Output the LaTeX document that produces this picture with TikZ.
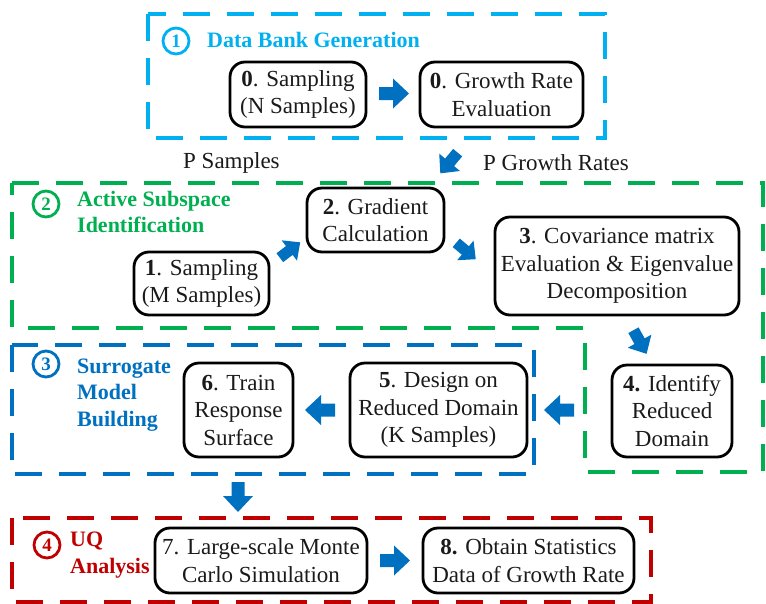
\documentclass[tikz,border=0pt]{standalone}
\usepackage{fontspec}
\setmainfont{Liberation Serif}
\usetikzlibrary{calc}
\definecolor{cyanc}{HTML}{00B0F0}
\definecolor{greenc}{HTML}{00B050}
\definecolor{bluec}{HTML}{0070C0}
\definecolor{redc}{HTML}{C00000}
\definecolor{txt}{HTML}{1A1A1A}
\tikzset{
 stepbox/.style={draw=black, line width=2.8pt, rounded corners=15pt, align=center, text=txt,
   font=\fontsize{23}{27.5}\selectfont, inner sep=0pt},
 region/.style={line width=3.5pt, dash pattern=on 27pt off 17pt},
 heading/.style={font=\fontsize{22}{26.5}\selectfont\bfseries, anchor=west, align=left, inner sep=0pt},
 numcirc/.style={circle, line width=2.8pt, minimum size=26pt, inner sep=0pt, font=\fontsize{19}{19}\selectfont\bfseries},
 plain/.style={font=\fontsize{23}{27}\selectfont, text=txt, anchor=west, inner sep=0pt},
 pics/barrow/.style={code={\fill[bluec] (-15,-6.5) -- (-1,-6.5) -- (-1,-15) -- (15,0) -- (-1,15) -- (-1,6.5) -- (-15,6.5) -- cycle;}}
}
\begin{document}
\begin{tikzpicture}[x=1pt,y=-1pt]
\useasboundingbox (0,0) rectangle (766,603);
% regions
\draw[region, cyanc] (148,14) rectangle (605,138);
\draw[region, greenc] (12,183) -- (763,183) -- (763,472) -- (585,472) -- (585,328) -- (12,328) -- cycle;
\draw[region, bluec] (12,345) rectangle (534,474);
\draw[region, redc] (12,518) rectangle (651,602);
% region titles
\node[numcirc, draw=cyanc, text=cyanc] (n1) at (176,41) {1};
\node[heading, text=cyanc] (h1) at (207,40) {Data Bank Generation};
\node[numcirc, draw=greenc, text=greenc] (n2) at (46,204) {2};
\node[heading, text=greenc] (h2) at (77,212) {Active Subspace\\Identification};
\node[numcirc, draw=bluec, text=bluec] (n3) at (46,364) {3};
\node[heading, text=bluec] (h3) at (77,395) {Surrogate\\Model\\Building};
\node[numcirc, draw=redc, text=redc] (n4) at (47,545) {4};
\node[heading, text=redc] (h4) at (70,555) {UQ\\Analysis};
% plain labels
\node[plain] (ps) at (183,163) {P Samples};
\node[plain] (pg) at (483,163) {P Growth Rates};
% step boxes
\node[stepbox, minimum width=136pt, minimum height=65pt] (s0) at (298,94.5) {\textbf{0}. Sampling\\(N Samples)};
\node[stepbox, minimum width=163pt, minimum height=65pt] (g0) at (501.5,94.5) {\textbf{0}. Growth Rate\\Evaluation};
\node[stepbox, minimum width=137pt, minimum height=64pt] (g2) at (375.5,220) {\textbf{2}. Gradient\\Calculation};
\node[stepbox, minimum width=135pt, minimum height=63pt] (s1) at (201.5,283.5) {\textbf{1}. Sampling\\(M Samples)};
\node[stepbox, minimum width=244pt, minimum height=98pt] (c3) at (617,266) {\textbf{3}. Covariance matrix\\Evaluation \& Eigenvalue\\Decomposition};
\node[stepbox, minimum width=120pt, minimum height=92pt] (i4) at (672,411) {\textbf{4.} Identify\\Reduced\\Domain};
\node[stepbox, minimum width=177pt, minimum height=94pt] (d5) at (438.5,410) {\textbf{5}. Design on\\Reduced Domain\\(K Samples)};
\node[stepbox, minimum width=109pt, minimum height=94pt] (t6) at (238.5,410) {\textbf{6}. Train\\Response\\Surface};
\node[stepbox, minimum width=212pt, minimum height=65pt] (m7) at (261,560.5) {7. Large-scale Monte\\Carlo Simulation};
\node[stepbox, minimum width=211pt, minimum height=65pt] (o8) at (528.5,560.5) {\textbf{8.} Obtain Statistics\\Data of Growth Rate};
% block arrows
\pic[rotate=0] at ($(s0.east)!0.5!(g0.west)+(1,-1)$) {barrow};
\pic[rotate=230, scale=0.9] at (449,163) {barrow};
\pic[rotate=37, scale=0.85] at (290,250) {barrow};
\pic[rotate=-40, scale=0.85] at (466,251) {barrow};
\pic[rotate=-61, scale=0.9] at (640,342) {barrow};
\pic[rotate=180] at (559,410) {barrow};
\pic[rotate=180] at (320,410) {barrow};
\pic[rotate=270] at (238,497) {barrow};
\pic[rotate=0] at ($(m7.east)!0.5!(o8.west)$) {barrow};
\end{tikzpicture}
\end{document}
